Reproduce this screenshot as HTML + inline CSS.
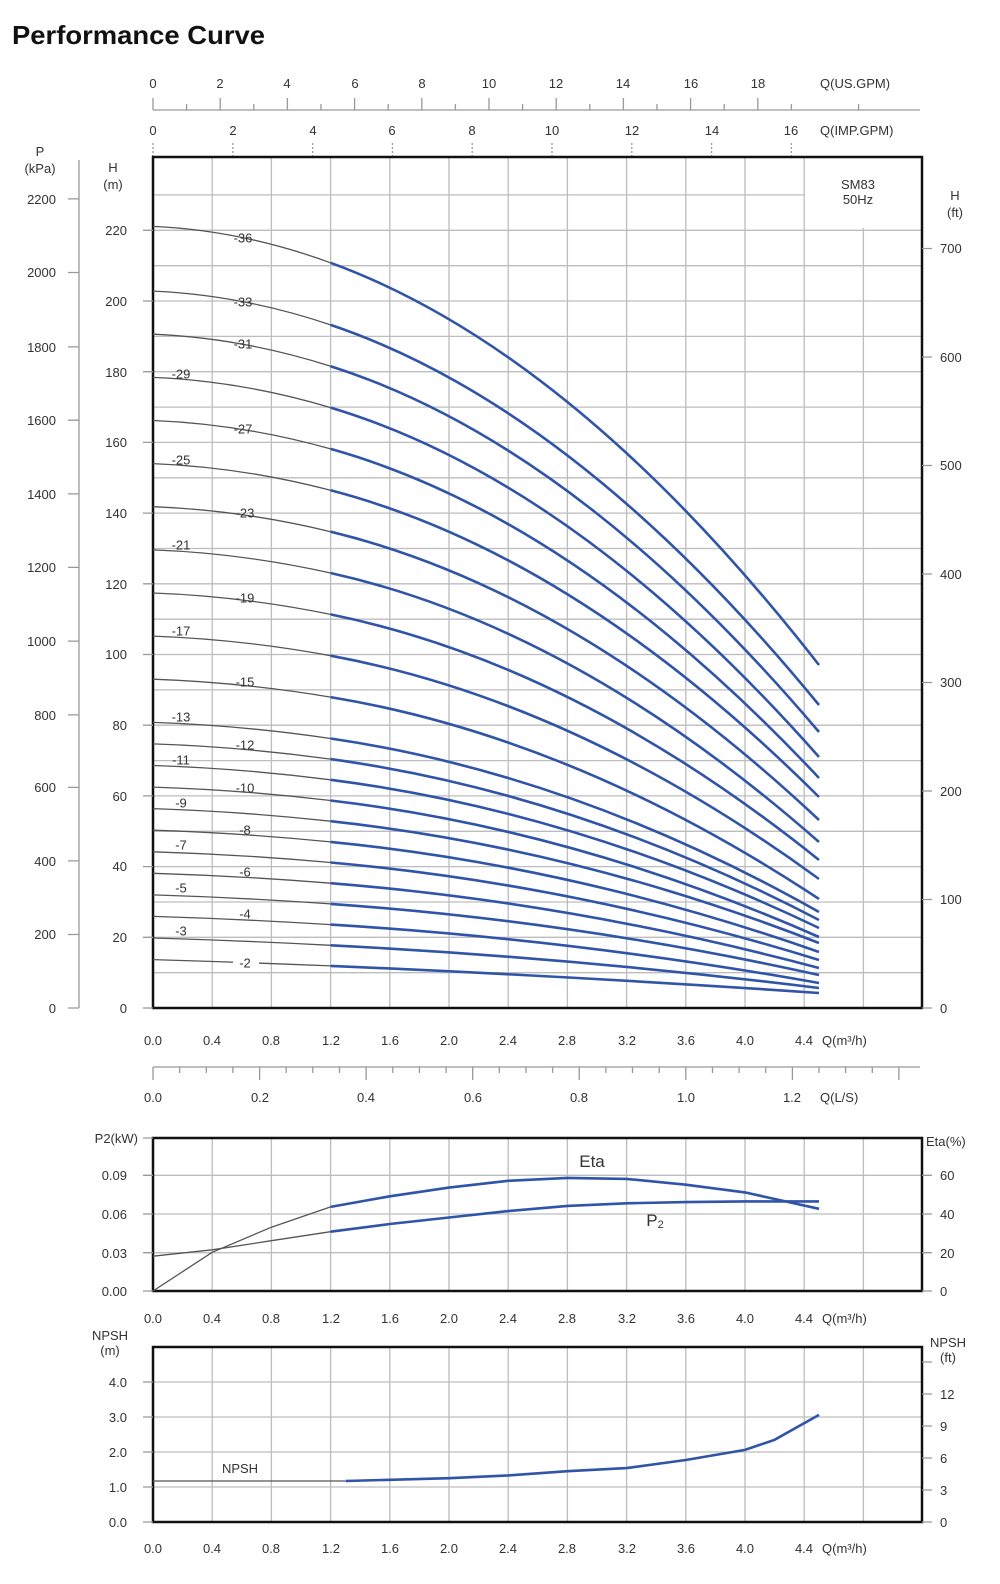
<!DOCTYPE html>
<html><head><meta charset="utf-8"><style>
html,body{margin:0;padding:0;background:#fff;}
svg{display:block;font-family:"Liberation Sans",sans-serif;}
.t{font-size:13px;fill:#333;}
.g{stroke:#bdbdbd;stroke-width:1.3;fill:none;}
.b{stroke:#111;stroke-width:2.5;fill:none;}
.ax{stroke:#999;stroke-width:1.3;fill:none;}
.gc{stroke:#555;stroke-width:1.3;fill:none;}
.bc{stroke:#2f54a8;stroke-width:2.6;fill:none;}
</style></head><body>
<svg width="1000" height="1584" viewBox="0 0 1000 1584" xmlns="http://www.w3.org/2000/svg">
<text x="12" y="44" font-size="26" font-weight="bold" fill="#111" textLength="253" lengthAdjust="spacingAndGlyphs">Performance Curve</text>

<!-- Top US GPM axis -->
<path class="ax" d="M153 110H920"/>
<path class="ax" d="M153 98V110M220.2 98V110M287.4 98V110M354.6 98V110M421.8 98V110M489 98V110M556.2 98V110M623.4 98V110M690.6 98V110M757.8 98V110"/>
<path class="ax" d="M186.6 104V110M253.8 104V110M321 104V110M388.2 104V110M455.4 104V110M522.6 104V110M589.8 104V110M657 104V110M724.2 104V110M791.4 104V110M858.6 104V110"/>
<g class="t" text-anchor="middle">
<text x="153" y="88">0</text><text x="220" y="88">2</text><text x="287" y="88">4</text><text x="355" y="88">6</text><text x="422" y="88">8</text><text x="489" y="88">10</text><text x="556" y="88">12</text><text x="623" y="88">14</text><text x="691" y="88">16</text><text x="758" y="88">18</text>
<text x="153" y="135">0</text><text x="233" y="135">2</text><text x="313" y="135">4</text><text x="392" y="135">6</text><text x="472" y="135">8</text><text x="552" y="135">10</text><text x="632" y="135">12</text><text x="712" y="135">14</text><text x="791" y="135">16</text>
</g>
<text class="t" x="820" y="88">Q(US.GPM)</text>
<text class="t" x="820" y="135">Q(IMP.GPM)</text>
<path class="ax" stroke-dasharray="2,2" d="M153 143V157M232.8 143V157M312.6 143V157M392.4 143V157M472.2 143V157M552 143V157M631.8 143V157M711.6 143V157M791.4 143V157"/>

<!-- Main grid -->
<path class="g" d="M212.2 157V1008M271.4 157V1008M330.6 157V1008M389.8 157V1008M449 157V1008M508.2 157V1008M567.4 157V1008M626.6 157V1008M685.8 157V1008M745 157V1008M804.2 157V1008M863.4 228V1008"/>
<path class="g" d="M153 972.7H922M153 937.3H922M153 902H922M153 866.6H922M153 831.3H922M153 795.9H922M153 760.6H922M153 725.2H922M153 689.9H922M153 654.5H922M153 619.2H922M153 583.8H922M153 548.5H922M153 513.1H922M153 477.8H922M153 442.4H922M153 407.1H922M153 371.7H922M153 336.4H922M153 301H922M153 265.7H922M153 230.3H922M153 194.9H804"/>
<rect class="b" x="153" y="157" width="769" height="851"/>

<!-- Left P axis -->
<path class="ax" d="M79 160V1008"/>
<path class="ax" d="M68 1008H79M68 934.5H79M68 860.9H79M68 787.4H79M68 714.9H79M68 641.1H79M68 567.4H79M68 493.9H79M68 420.2H79M68 346.9H79M68 272.5H79M68 198.9H79"/>
<g class="t" text-anchor="end">
<text x="56" y="1013">0</text><text x="56" y="939">200</text><text x="56" y="866">400</text><text x="56" y="792">600</text><text x="56" y="720">800</text><text x="56" y="646">1000</text><text x="56" y="572">1200</text><text x="56" y="499">1400</text><text x="56" y="425">1600</text><text x="56" y="352">1800</text><text x="56" y="277">2000</text><text x="56" y="204">2200</text>
</g>
<text class="t" x="40" y="156" text-anchor="middle">P</text>
<text class="t" x="40" y="173" text-anchor="middle">(kPa)</text>
<text class="t" x="113" y="172" text-anchor="middle">H</text>
<text class="t" x="113" y="189" text-anchor="middle">(m)</text>
<path class="ax" d="M143 1008H153M143 937.3H153M143 866.6H153M143 795.9H153M143 725.2H153M143 654.5H153M143 583.8H153M143 513.1H153M143 442.4H153M143 371.7H153M143 301H153M143 230.3H153"/>
<g class="t" text-anchor="end">
<text x="127" y="1013">0</text><text x="127" y="942">20</text><text x="127" y="871">40</text><text x="127" y="801">60</text><text x="127" y="730">80</text><text x="127" y="659">100</text><text x="127" y="589">120</text><text x="127" y="518">140</text><text x="127" y="447">160</text><text x="127" y="377">180</text><text x="127" y="306">200</text><text x="127" y="235">220</text>
</g>
<!-- Right ft axis -->
<path class="ax" d="M922 1008H932M922 899.5H932M922 791H932M922 682.5H932M922 574H932M922 465.5H932M922 357H932M922 248.5H932"/>
<g class="t">
<text x="940" y="1013">0</text><text x="940" y="904">100</text><text x="940" y="796">200</text><text x="940" y="687">300</text><text x="940" y="579">400</text><text x="940" y="470">500</text><text x="940" y="362">600</text><text x="940" y="253">700</text>
</g>
<text class="t" x="955" y="200" text-anchor="middle">H</text>
<text class="t" x="955" y="217" text-anchor="middle">(ft)</text>
<text class="t" x="858" y="189" text-anchor="middle">SM83</text>
<text class="t" x="858" y="204" text-anchor="middle">50Hz</text>

<!-- Curves -->
<g class="gc">
<path d="M153 226.4Q241.8 230.3 330.6 262.8"/><path d="M153 291.1Q241.8 294.9 330.6 324.9"/><path d="M153 334.2Q241.8 337.9 330.6 366.2"/><path d="M153 377.4Q241.8 381 330.6 407.6"/><path d="M153 420.5Q241.8 424 330.6 448.9"/><path d="M153 463.6Q241.8 467.1 330.6 490.3"/><path d="M153 506.7Q241.8 510.1 330.6 531.7"/><path d="M153 549.9Q241.8 553.2 330.6 573"/><path d="M153 593Q241.8 596.2 330.6 614.4"/><path d="M153 636.1Q241.8 639.3 330.6 655.7"/><path d="M153 679.2Q241.8 682.3 330.6 697.1"/><path d="M153 722.4Q241.8 725.4 330.6 738.5"/><path d="M153 743.9Q241.8 746.9 330.6 759.1"/><path d="M153 765.5Q241.8 768.4 330.6 779.8"/><path d="M153 787.1Q241.8 789.9 330.6 800.5"/><path d="M153 808.6Q241.8 811.5 330.6 821.2"/><path d="M153 830.2Q241.8 833 330.6 841.9"/><path d="M153 851.8Q241.8 854.5 330.6 862.5"/><path d="M153 873.3Q241.8 876 330.6 883.2"/><path d="M153 894.9Q241.8 897.6 330.6 903.9"/><path d="M153 916.4Q241.8 919.1 330.6 924.6"/><path d="M153 938Q241.8 940.6 330.6 945.3"/><path d="M153 959.6Q241.8 962.2 330.6 965.9"/>
</g>
<g class="bc">
<path d="M330.6 262.8Q574.8 352.2 819 665"/><path d="M330.6 324.9Q574.8 407.3 819 705"/><path d="M330.6 366.2Q574.8 444 819 732"/><path d="M330.6 407.6Q574.8 480.7 819 757"/><path d="M330.6 448.9Q574.8 517.4 819 778"/><path d="M330.6 490.3Q574.8 554.1 819 797"/><path d="M330.6 531.7Q574.8 590.8 819 820"/><path d="M330.6 573Q574.8 627.5 819 842"/><path d="M330.6 614.4Q574.8 664.2 819 860"/><path d="M330.6 655.7Q574.8 700.9 819 879"/><path d="M330.6 697.1Q574.8 737.6 819 899"/><path d="M330.6 738.5Q574.8 774.3 819 912"/><path d="M330.6 759.1Q574.8 792.7 819 920"/><path d="M330.6 779.8Q574.8 811 819 928"/><path d="M330.6 800.5Q574.8 829.4 819 937"/><path d="M330.6 821.2Q574.8 847.7 819 943"/><path d="M330.6 841.9Q574.8 866.1 819 952"/><path d="M330.6 862.5Q574.8 884.4 819 960"/><path d="M330.6 883.2Q574.8 902.8 819 968"/><path d="M330.6 903.9Q574.8 921.1 819 975"/><path d="M330.6 924.6Q574.8 939.5 819 983"/><path d="M330.6 945.3Q574.8 957.8 819 988"/><path d="M330.6 965.9Q574.8 976.2 819 993"/>
</g>
<rect x="233" y="956" width="26" height="14" fill="#fff"/>
<g class="t" text-anchor="middle" dominant-baseline="central">
<text x="243" y="238">-36</text><text x="243" y="302">-33</text><text x="243" y="344">-31</text><text x="243" y="429">-27</text><text x="245" y="513">-23</text><text x="245" y="598">-19</text><text x="245" y="682">-15</text><text x="245" y="745">-12</text><text x="245" y="788">-10</text><text x="245" y="830">-8</text><text x="245" y="872">-6</text><text x="245" y="914">-4</text><text x="245" y="963">-2</text>
<text x="181" y="374">-29</text><text x="181" y="460">-25</text><text x="181" y="545">-21</text><text x="181" y="631">-17</text><text x="181" y="717">-13</text><text x="181" y="760">-11</text><text x="181" y="803">-9</text><text x="181" y="845">-7</text><text x="181" y="888">-5</text><text x="181" y="931">-3</text>
</g>

<!-- bottom Q axis main -->
<g class="t" text-anchor="middle">
<text x="153" y="1045">0.0</text><text x="212" y="1045">0.4</text><text x="271" y="1045">0.8</text><text x="331" y="1045">1.2</text><text x="390" y="1045">1.6</text><text x="449" y="1045">2.0</text><text x="508" y="1045">2.4</text><text x="567" y="1045">2.8</text><text x="627" y="1045">3.2</text><text x="686" y="1045">3.6</text><text x="745" y="1045">4.0</text><text x="804" y="1045">4.4</text>
</g>
<text class="t" x="822" y="1045">Q(m³/h)</text>
<path class="ax" d="M153 1067H920"/>
<path class="ax" d="M153 1067V1080M259.6 1067V1080M366.1 1067V1080M472.7 1067V1080M579.2 1067V1080M685.8 1067V1080M792.4 1067V1080M898.9 1067V1080"/>
<path class="ax" d="M179.6 1067V1073M206.3 1067V1073M232.9 1067V1073M286.2 1067V1073M312.8 1067V1073M339.5 1067V1073M392.8 1067V1073M419.4 1067V1073M446.1 1067V1073M499.3 1067V1073M526 1067V1073M552.6 1067V1073M605.9 1067V1073M632.5 1067V1073M659.2 1067V1073M712.5 1067V1073M739.1 1067V1073M765.7 1067V1073M819 1067V1073M845.6 1067V1073M872.3 1067V1073"/>
<g class="t" text-anchor="middle">
<text x="153" y="1102">0.0</text><text x="260" y="1102">0.2</text><text x="366" y="1102">0.4</text><text x="473" y="1102">0.6</text><text x="579" y="1102">0.8</text><text x="686" y="1102">1.0</text><text x="792" y="1102">1.2</text>
</g>
<text class="t" x="820" y="1102">Q(L/S)</text>

<!-- P2 / Eta chart -->
<path class="g" d="M212.2 1138V1291M271.4 1138V1291M330.6 1138V1291M389.8 1138V1291M449 1138V1291M508.2 1138V1291M567.4 1138V1291M626.6 1138V1291M685.8 1138V1291M745 1138V1291M804.2 1138V1291M863.4 1138V1291"/>
<path class="g" d="M153 1175.3H922M153 1214H922M153 1252.7H922"/>
<rect class="b" x="153" y="1138" width="769" height="153"/>
<path class="ax" d="M143 1291H153M143 1252.7H153M143 1214H153M143 1175.3H153M143 1138H153M922 1291H932M922 1252.7H932M922 1214H932M922 1175.3H932"/>
<g class="t" text-anchor="end">
<text x="127" y="1296">0.00</text><text x="127" y="1258">0.03</text><text x="127" y="1219">0.06</text><text x="127" y="1180">0.09</text><text x="138" y="1143">P2(kW)</text>
</g>
<g class="t">
<text x="940" y="1296">0</text><text x="940" y="1258">20</text><text x="940" y="1219">40</text><text x="940" y="1180">60</text><text x="926" y="1146">Eta(%)</text>
</g>
<polyline class="gc" points="153,1291 212.2,1252.3 271.4,1227.2 330.6,1206.9"/>
<polyline class="bc" points="330.6,1206.9 389.8,1196.3 449,1187.6 508.2,1180.8 567.4,1177.9 626.6,1178.9 685.8,1184.7 745,1192.4 819,1208.8"/>
<polyline class="gc" points="153,1256.2 212.2,1249.8 271.4,1240.7 330.6,1231.7"/>
<polyline class="bc" points="330.6,1231.7 389.8,1224 449,1217.5 508.2,1211.1 567.4,1205.9 626.6,1203.3 685.8,1202.1 745,1201.4 819,1201.4"/>
<text x="592" y="1167" font-size="17" fill="#333" text-anchor="middle">Eta</text>
<text x="655" y="1226" font-size="17" fill="#333" text-anchor="middle">P<tspan font-size="11" dy="2">2</tspan></text>
<g class="t" text-anchor="middle">
<text x="153" y="1323">0.0</text><text x="212" y="1323">0.4</text><text x="271" y="1323">0.8</text><text x="331" y="1323">1.2</text><text x="390" y="1323">1.6</text><text x="449" y="1323">2.0</text><text x="508" y="1323">2.4</text><text x="567" y="1323">2.8</text><text x="627" y="1323">3.2</text><text x="686" y="1323">3.6</text><text x="745" y="1323">4.0</text><text x="804" y="1323">4.4</text>
</g>
<text class="t" x="822" y="1323">Q(m³/h)</text>

<!-- NPSH chart -->
<path class="g" d="M212.2 1347V1522M271.4 1347V1522M330.6 1347V1522M389.8 1347V1522M449 1347V1522M508.2 1347V1522M567.4 1347V1522M626.6 1347V1522M685.8 1347V1522M745 1347V1522M804.2 1347V1522M863.4 1347V1522"/>
<path class="g" d="M153 1487H922M153 1452H922M153 1417H922M153 1382H922"/>
<rect class="b" x="153" y="1347" width="769" height="175"/>
<path class="ax" d="M143 1522H153M143 1487H153M143 1452H153M143 1417H153M143 1382H153M922 1522H932M922 1490H932M922 1458H932M922 1426H932M922 1394H932M922 1362H932"/>
<g class="t" text-anchor="end">
<text x="127" y="1527">0.0</text><text x="127" y="1492">1.0</text><text x="127" y="1457">2.0</text><text x="127" y="1422">3.0</text><text x="127" y="1387">4.0</text>
</g>
<text class="t" x="110" y="1340" text-anchor="middle">NPSH</text>
<text class="t" x="110" y="1355" text-anchor="middle">(m)</text>
<g class="t">
<text x="940" y="1527">0</text><text x="940" y="1495">3</text><text x="940" y="1463">6</text><text x="940" y="1431">9</text><text x="940" y="1399">12</text>
</g>
<text class="t" x="948" y="1347" text-anchor="middle">NPSH</text>
<text class="t" x="948" y="1362" text-anchor="middle">(ft)</text>
<polyline class="gc" points="153,1481 345,1481"/>
<polyline class="bc" points="345.4,1481 449,1478.2 508.2,1475.4 567.4,1471.2 626.6,1468.1 685.8,1460 745,1449.9 774.6,1439.8 819,1414.9"/>
<text class="t" x="240" y="1473" text-anchor="middle">NPSH</text>
<g class="t" text-anchor="middle">
<text x="153" y="1553">0.0</text><text x="212" y="1553">0.4</text><text x="271" y="1553">0.8</text><text x="331" y="1553">1.2</text><text x="390" y="1553">1.6</text><text x="449" y="1553">2.0</text><text x="508" y="1553">2.4</text><text x="567" y="1553">2.8</text><text x="627" y="1553">3.2</text><text x="686" y="1553">3.6</text><text x="745" y="1553">4.0</text><text x="804" y="1553">4.4</text>
</g>
<text class="t" x="822" y="1553">Q(m³/h)</text>
</svg>
</body></html>
